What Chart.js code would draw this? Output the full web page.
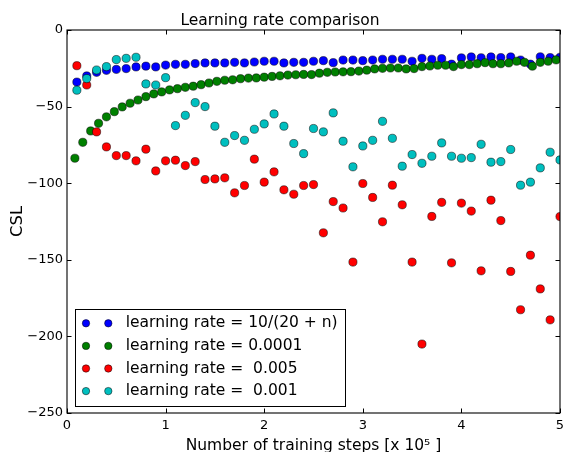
<!DOCTYPE html>
<html>
<head>
<meta charset="utf-8">
<script src="https://cdn.jsdelivr.net/npm/chart.js@4.4.1/dist/chart.umd.min.js"></script>
<style>
  html, body { margin: 0; padding: 0; background: #fff; }
  #wrap { width: 563px; height: 452px; position: relative; }
</style>
</head>
<body>
<div id="wrap"><canvas id="lrChart"></canvas></div>
<script>
// Data
// ----------------------------------------------
const stepsCoarse = [
   0.1, 0.2, 0.3, 0.4, 0.5, 0.6, 0.7, 0.8, 0.9, 1.0,
   1.1, 1.2, 1.3, 1.4, 1.5, 1.6, 1.7, 1.8, 1.9, 2.0,
   2.1, 2.2, 2.3, 2.4, 2.5, 2.6, 2.7, 2.8, 2.9, 3.0,
   3.1, 3.2, 3.3, 3.4, 3.5, 3.6, 3.7, 3.8, 3.9, 4.0,
   4.1, 4.2, 4.3, 4.4, 4.5, 4.6, 4.7, 4.8, 4.9, 5.0
];
const stepsFine = [
   0.08, 0.16, 0.24, 0.32, 0.40, 0.48, 0.56, 0.64, 0.72, 0.80,
   0.88, 0.96, 1.04, 1.12, 1.20, 1.28, 1.36, 1.44, 1.52, 1.60,
   1.68, 1.76, 1.84, 1.92, 2.00, 2.08, 2.16, 2.24, 2.32, 2.40,
   2.48, 2.56, 2.64, 2.72, 2.80, 2.88, 2.96, 3.04, 3.12, 3.20,
   3.28, 3.36, 3.44, 3.52, 3.60, 3.68, 3.76, 3.84, 3.92, 4.00,
   4.08, 4.16, 4.24, 4.32, 4.40, 4.48, 4.56, 4.64, 4.72, 4.80,
   4.88, 4.96
];

// learning rate = 10/(20 + n)
const cslSchedule = [
   -34.0, -30.0, -27.6, -26.3, -25.7, -25.2, -24.1, -23.6, -24.1, -22.9,
   -22.4, -22.4, -21.9, -21.5, -21.5, -21.5, -21.1, -21.5, -20.9, -20.4,
   -20.4, -21.5, -21.1, -21.1, -20.4, -20.0, -21.3, -19.6, -19.6, -20.0,
   -19.6, -19.1, -19.1, -19.1, -20.4, -18.5, -19.1, -18.7, -22.3, -18.2,
   -17.6, -18.1, -17.6, -18.0, -17.6, -19.6, -22.3, -17.5, -18.0, -17.8
];
// learning rate = 0.0001 (sampled more often)
const csl0001 = [
   -83.7, -73.3, -65.9, -60.9, -56.7, -53.3, -50.2, -47.8, -45.7, -43.5,
   -41.7, -40.4, -39.1, -38.3, -37.4, -36.7, -35.7, -34.6, -33.5, -32.8,
   -32.5, -31.8, -31.4, -31.3, -30.8, -30.3, -29.9, -29.4, -29.2, -29.0,
   -29.1, -28.2, -27.6, -27.4, -27.3, -27.2, -26.8, -26.2, -25.4, -25.0,
   -24.8, -24.8, -25.4, -25.2, -23.9, -23.5, -23.0, -23.0, -23.9, -22.6,
   -22.6, -22.0, -21.3, -22.0, -22.0, -21.5, -20.4, -21.1, -23.6, -21.1,
   -20.4, -19.5
];
// learning rate = 0.005
const csl005 = [
   -23.3, -35.9, -66.5, -76.3, -82.0, -82.0, -85.4, -77.8, -92.0, -85.4,
   -85.0, -88.5, -85.9, -97.6, -97.2, -96.5, -106.3, -101.5, -84.3, -99.3,
   -92.6, -104.3, -107.2, -101.5, -100.9, -132.4, -112.0, -116.2, -151.5, -100.2,
   -109.3, -125.2, -101.3, -114.1, -151.5, -205.0, -121.7, -112.5, -152.0, -113.0,
   -118.2, -157.2, -111.1, -124.4, -157.6, -182.6, -147.0, -169.0, -189.2, -121.8
];
// learning rate = 0.001
const csl001 = [
   -39.3, -31.7, -26.1, -23.9, -19.3, -18.5, -17.8, -35.2, -35.9, -31.1,
   -62.4, -55.7, -47.4, -50.0, -62.8, -73.3, -68.9, -72.0, -64.8, -61.3,
   -54.8, -62.8, -74.1, -80.7, -64.3, -66.5, -54.1, -72.6, -89.3, -75.7,
   -72.0, -59.6, -70.7, -88.9, -81.3, -87.0, -82.4, -73.7, -82.4, -83.7,
   -83.3, -74.6, -86.3, -85.9, -78.0, -101.3, -99.3, -90.0, -79.8, -84.8
];

const seriesLabels = [
   'learning rate = 10/(20 + n)',
   'learning rate = 0.0001',
   'learning rate =  0.005',
   'learning rate =  0.001'
];
const seriesColors = [ '#0000ff', '#008000', '#ff0000', '#00bfbf' ];

const xTicks = [ 0, 1, 2, 3, 4, 5 ];
const yTicks = [ 0, -50, -100, -150, -200, -250 ];



// Helpers
// ----------------------------------------------
const FONT = '"DejaVu Sans", sans-serif';

const toPairs = ( xs, ys ) => ys.map( ( y, i ) => ({ x: xs[i], y: y }) );

const makeSet = ( i, xs, ys ) => ({
   label: seriesLabels[i],
   data: toPairs( xs, ys ),
   backgroundColor: seriesColors[i],
   borderColor: 'rgba(0,0,0,0.85)',
   borderWidth: 0.6,
   pointRadius: 4.1,
   pointHoverRadius: 4.1,
   order: 4 - i,      // later series drawn on top, like matplotlib
   clip: 0
});

// no extra room for half tick labels at the ends
const noEdgePadding = s => {
   s.paddingLeft = 0; s.paddingRight = 0;
   s.paddingTop = 0;  s.paddingBottom = 0;
};

// Frame with inward ticks on all four sides
const frameAndTicks = {
   id: 'frameAndTicks',
   afterDatasetsDraw( chart ) {
      const { ctx, chartArea: a, scales: { x, y } } = chart;
      const tl = 4.5;
      ctx.save();
      ctx.strokeStyle = '#000';
      ctx.lineWidth = 1;
      ctx.beginPath();
      x.ticks.forEach( t => {
         const px = Math.round( x.getPixelForValue( t.value ) ) + 0.5;
         ctx.moveTo( px, a.bottom ); ctx.lineTo( px, a.bottom - tl );
         ctx.moveTo( px, a.top );    ctx.lineTo( px, a.top + tl );
      });
      y.ticks.forEach( t => {
         const py = Math.round( y.getPixelForValue( t.value ) ) + 0.5;
         ctx.moveTo( a.left, py );  ctx.lineTo( a.left + tl, py );
         ctx.moveTo( a.right, py ); ctx.lineTo( a.right - tl, py );
      });
      ctx.stroke();
      ctx.lineWidth = 1.1;
      ctx.strokeRect( a.left, a.top, a.right - a.left, a.bottom - a.top );
      ctx.restore();
   }
};

// Boxed legend in lower left, two markers per entry
const boxLegend = {
   id: 'boxLegend',
   afterDraw( chart ) {
      const { ctx, chartArea: a } = chart;
      const w = 270, h = 97, rowH = 22.6;
      const left = a.left + 8, top = a.bottom - 7 - h;
      ctx.save();
      ctx.fillStyle = '#fff';
      ctx.fillRect( left, top, w, h );
      ctx.strokeStyle = '#000';
      ctx.lineWidth = 1;
      ctx.strokeRect( left + 0.5, top + 0.5, w, h );
      ctx.font = '15.5px ' + FONT;
      ctx.textBaseline = 'middle';
      chart.data.datasets.forEach( ( ds, i ) => {
         const cy = top + 14.3 + i * rowH;
         [ 11, 33.3 ].forEach( dx => {
            ctx.beginPath();
            ctx.arc( left + dx, cy, 3.7, 0, Math.PI * 2 );
            ctx.fillStyle = ds.backgroundColor;
            ctx.fill();
            ctx.lineWidth = 0.6;
            ctx.strokeStyle = 'rgba(0,0,0,0.85)';
            ctx.stroke();
         });
         ctx.fillStyle = '#000';
         ctx.fillText( ds.label, left + 50.7, cy );
      });
      ctx.restore();
   }
};



// Chart
// ----------------------------------------------
new Chart( document.getElementById( 'lrChart' ), {
   type: 'scatter',
   data: {
      datasets: [
         makeSet( 0, stepsCoarse, cslSchedule ),
         makeSet( 1, stepsFine,   csl0001 ),
         makeSet( 2, stepsCoarse, csl005 ),
         makeSet( 3, stepsCoarse, csl001 )
      ]
   },
   plugins: [ frameAndTicks, boxLegend ],
   options: {
      responsive: true,
      maintainAspectRatio: false,
      animation: false,
      events: [],
      layout: {
         autoPadding: false,
         padding: { top: 0, right: 3, bottom: 0, left: 0 }
      },
      plugins: {
         legend: { display: false },
         tooltip: { enabled: false },
         title: {
            display: true,
            text: 'Learning rate comparison',
            color: '#000',
            font: { family: FONT, size: 15.5, weight: 'normal', lineHeight: 1 },
            padding: { top: 13, bottom: 1.5 }
         }
      },
      scales: {
         x: {
            type: 'linear',
            min: 0,
            max: 5,
            afterBuildTicks: s => { s.ticks = xTicks.map( v => ({ value: v }) ); },
            afterFit: s => { s.height = 39; noEdgePadding( s ); },
            grid: { display: false, drawTicks: false },
            border: { display: false },
            ticks: {
               color: '#000',
               padding: 5,
               autoSkip: false,
               maxRotation: 0,
               font: { family: FONT, size: 13 }
            },
            title: {
               display: true,
               text: 'Number of training steps [x 10\u2075 ]',
               color: '#000',
               font: { family: FONT, size: 15.5, lineHeight: 0.8 },
               padding: { top: 0, bottom: 0 }
            }
         },
         y: {
            type: 'linear',
            min: -250,
            max: 0,
            afterBuildTicks: s => { s.ticks = yTicks.map( v => ({ value: v }) ); },
            afterFit: s => { s.width = 67; noEdgePadding( s ); },
            grid: { display: false, drawTicks: false },
            border: { display: false },
            ticks: {
               color: '#000',
               padding: 4,
               autoSkip: false,
               font: { family: FONT, size: 13 },
               callback: v => String( v ).replace( '-', '\u2212' )
            },
            title: {
               display: true,
               text: 'CSL',
               color: '#000',
               font: { family: FONT, size: 16.5, lineHeight: 1.2 },
               padding: { top: 8.1, bottom: 0 }
            }
         }
      }
   }
});
</script>
</body>
</html>
